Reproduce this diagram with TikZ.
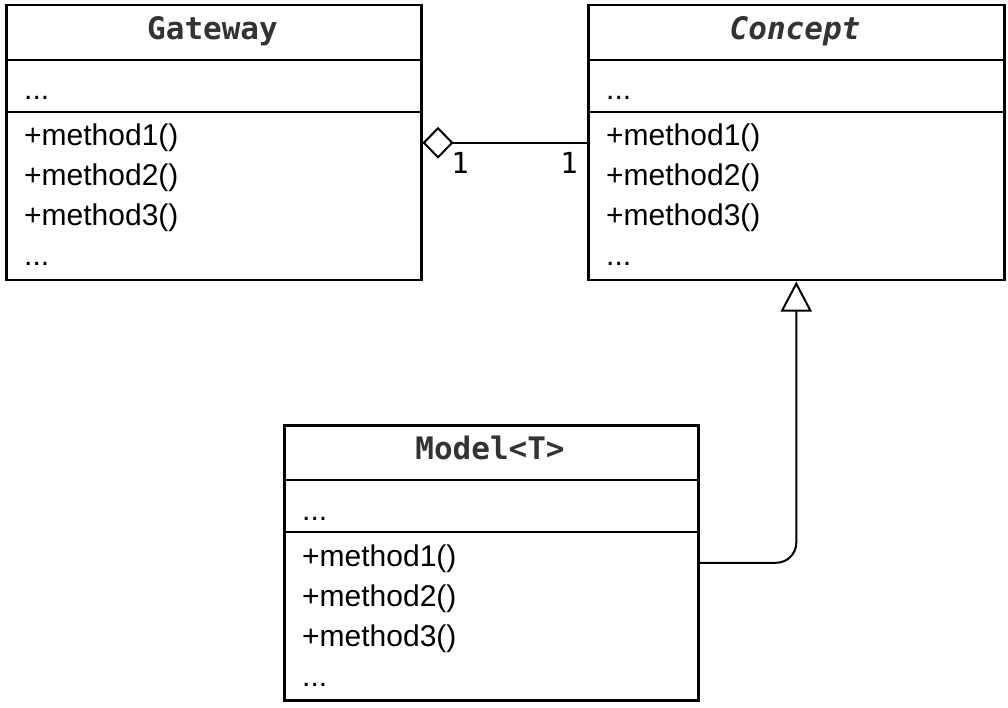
\documentclass[tikz,border=0pt]{standalone}
\usepackage{fontspec}
\setmainfont{Liberation Sans}
\newfontfamily\monofont{DejaVu Sans Mono}
\usetikzlibrary{arrows.meta}
\definecolor{titlegray}{HTML}{333333}
\begin{document}
\begin{tikzpicture}[x=1pt,y=-1pt,
  classbox/.style={draw=black, line width=2.5pt, fill=white, anchor=north west, inner sep=0pt},
  divider/.style={line width=2.5pt},
  classtitle/.style={font=\monofont\bfseries\fontsize{31}{36}\selectfont, text=titlegray, anchor=base, inner sep=0pt},
  member/.style={font=\fontsize{30}{36}\selectfont, anchor=base west, inner sep=0pt},
  mult/.style={font=\monofont\fontsize{29}{34}\selectfont, inner sep=0pt},
  link/.style={line width=2pt}]
\useasboundingbox (0,0) rectangle (1008,708);

% Gateway
\node[classbox, minimum width=415pt, minimum height=275pt] (gw) at (5,4) {};
\node[classtitle] (gwtitle) at (212.5,39.5) {Gateway};
\draw[divider] ([yshift=-56pt]gw.north west) -- ([yshift=-56pt]gw.north east);
\draw[divider] ([yshift=-108pt]gw.north west) -- ([yshift=-108pt]gw.north east);
\node[member] (gwattr) at (24,100) {...};
\node[member] (gwm1) at (24,146) {+method1()};
\node[member] (gwm2) at (24,186) {+method2()};
\node[member] (gwm3) at (24,226) {+method3()};
\node[member] (gwmore) at (24,266) {...};

% Concept
\node[classbox, minimum width=416pt, minimum height=275pt] (cp) at (587,4) {};
\node[classtitle, font=\monofont\bfseries\itshape\fontsize{31}{36}\selectfont] (cptitle) at (795,39.5) {Concept};
\draw[divider] ([yshift=-56pt]cp.north west) -- ([yshift=-56pt]cp.north east);
\draw[divider] ([yshift=-108pt]cp.north west) -- ([yshift=-108pt]cp.north east);
\node[member] (cpattr) at (606,100) {...};
\node[member] (cpm1) at (606,146) {+method1()};
\node[member] (cpm2) at (606,186) {+method2()};
\node[member] (cpm3) at (606,226) {+method3()};
\node[member] (cpmore) at (606,266) {...};

% Model<T>
\node[classbox, minimum width=414pt, minimum height=275pt] (md) at (283,424) {};
\node[classtitle] (mdtitle) at (490,459.5) {Model<T>};
\draw[divider] ([yshift=-56pt]md.north west) -- ([yshift=-56pt]md.north east);
\draw[divider] ([yshift=-108pt]md.north west) -- ([yshift=-108pt]md.north east);
\node[member] (mdattr) at (302,520) {...};
\node[member] (mdm1) at (302,566) {+method1()};
\node[member] (mdm2) at (302,606) {+method2()};
\node[member] (mdm3) at (302,646) {+method3()};
\node[member] (mdmore) at (302,686) {...};

% Aggregation Gateway <>-- Concept
\draw[link, {Diamond[open, fill=white, length=31pt, width=32pt]}-] (gw.east) -- (cp.west);
\node[mult] (multgw) at (460,163) {1};
\node[mult] (multcp) at (569,163) {1};

% Generalization Model<T> --|> Concept
\draw[link, rounded corners=20pt, -{Triangle[open, fill=white, length=30pt, width=31pt]}] (md.east) -| (cp.south);
\end{tikzpicture}
\end{document}
